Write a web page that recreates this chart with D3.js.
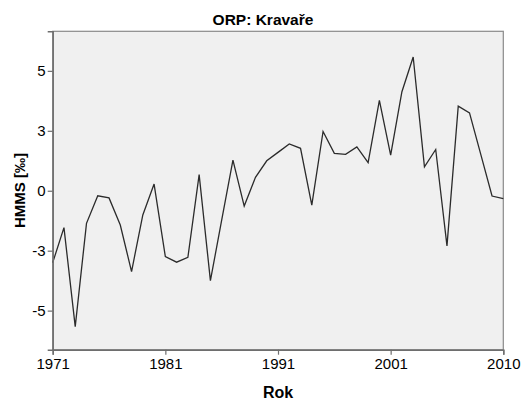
<!DOCTYPE html>
<html>
<head>
<meta charset="utf-8">
<script src="https://cdn.jsdelivr.net/npm/d3@7"></script>
<style>
  html, body { margin: 0; padding: 0; background: #ffffff; }
  svg { display: block; }
  text { font-family: "Liberation Sans", Arial, sans-serif; fill: #000; }
</style>
</head>
<body>
<svg id="chart" width="527" height="401"></svg>
<script>
// ---- data ----
const years = d3.range(1971, 2012);
const hmms = [
  -3.00, -1.54, -5.67, -1.36, -0.21, -0.30, -1.43, -3.37, -1.01, 0.28,
  -2.75, -2.98, -2.78, 0.67, -3.75, -1.23, 1.28, -0.64, 0.56, 1.25,
  1.60, 1.95, 1.77, -0.60, 2.47, 1.56, 1.52, 1.83, 1.17, 3.77,
  1.49, 4.13, 5.58, 1.00, 1.72, -2.30, 3.53, 3.25, 1.52, -0.22,
  -0.33
];
const xTickValues = [1971, 1981, 1991, 2001, 2011];
const xTickLabels = ["1971", "1981", "1991", "2001", "2010"];
const yTickValues = [-5, -2.5, 0, 2.5, 5];
const yTickLabels = ["-5", "-3", "0", "3", "5"];
const titleText = "ORP: Kravaře";
const xTitle = "Rok";
const yTitle = "HMMS [‰]";

// ---- layout ----
const mLeft = 52.7, mRight = 503.3, mTop = 31.3, mBottom = 349.7;
const svg = d3.select("#chart");

const x = d3.scaleLinear().domain([1971, 2011]).range([mLeft, mRight]);
const y = d3.scaleLinear().domain([-6.63, 6.65]).range([mBottom, mTop]);

// plot background
svg.append("rect")
  .attr("x", mLeft).attr("y", mTop)
  .attr("width", mRight - mLeft).attr("height", mBottom - mTop)
  .attr("fill", "#f0f0f0")
  .attr("stroke", "#8a8a8a").attr("stroke-width", 1.2);

// line
const line = d3.line()
  .x((d, i) => x(years[i]))
  .y(d => y(d));
svg.append("path")
  .datum(hmms)
  .attr("d", line)
  .attr("fill", "none")
  .attr("stroke", "#2b2b2b")
  .attr("stroke-width", 1.3)
  .attr("stroke-linejoin", "miter");

// x axis
const xAxis = d3.axisBottom(x)
  .tickValues(xTickValues)
  .tickFormat((d, i) => xTickLabels[i])
  .tickSize(5)
  .tickPadding(4);
const gx = svg.append("g").attr("transform", `translate(0,${mBottom})`).call(xAxis);
gx.select(".domain").attr("stroke", "#6e6e6e").attr("stroke-width", 1.5);
gx.selectAll(".tick line").attr("stroke", "#6e6e6e").attr("stroke-width", 1.2);
gx.selectAll(".tick text").attr("font-size", "15px").attr("font-family", "Liberation Sans, Arial, sans-serif").attr("fill", "#000");

// y axis
const yAxis = d3.axisLeft(y)
  .tickValues(yTickValues)
  .tickFormat((d, i) => yTickLabels[i])
  .tickSize(5)
  .tickPadding(2);
const gy = svg.append("g").attr("transform", `translate(${mLeft},0)`).call(yAxis);
gy.select(".domain").attr("stroke", "#6e6e6e").attr("stroke-width", 1.5);
gy.selectAll(".tick line").attr("stroke", "#6e6e6e").attr("stroke-width", 1.2);
gy.selectAll(".tick text").attr("font-size", "15px").attr("font-family", "Liberation Sans, Arial, sans-serif").attr("fill", "#000");

// titles
svg.append("text")
  .attr("x", 263).attr("y", 25)
  .attr("text-anchor", "middle")
  .attr("font-size", "15.5px").attr("font-weight", "bold")
  .text(titleText);

svg.append("text")
  .attr("x", (mLeft + mRight) / 2).attr("y", 398)
  .attr("text-anchor", "middle")
  .attr("font-size", "16px").attr("font-weight", "bold")
  .text(xTitle);

svg.append("text")
  .attr("transform", `translate(25,${(mTop + mBottom) / 2}) rotate(-90)`)
  .attr("text-anchor", "middle")
  .attr("font-size", "15px").attr("font-weight", "bold")
  .text(yTitle);
</script>
</body>
</html>
